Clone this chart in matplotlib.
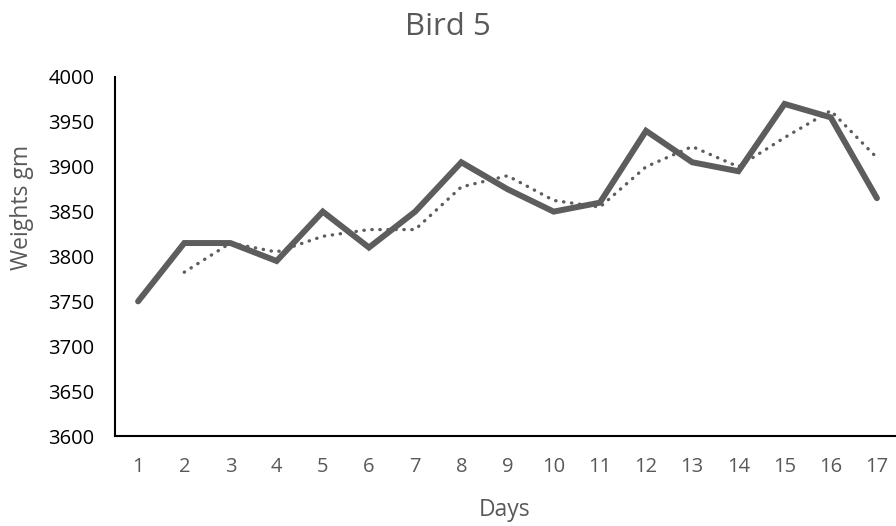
import matplotlib.pyplot as plt

plt.rcParams['font.family'] = ['Open Sans', 'DejaVu Sans']

days = list(range(1, 18))
weights = [3750, 3815, 3815, 3795, 3850, 3810, 3850, 3905, 3875,
           3850, 3860, 3940, 3905, 3895, 3970, 3955, 3865]
# 2-day moving average trend (starts on day 2)
trend_days = list(range(2, 18))
trend = [3782.5, 3815, 3805, 3822.5, 3830, 3830, 3877.5, 3890,
         3862.5, 3855, 3900, 3922.5, 3900, 3932.5, 3962.5, 3910]

line_color = '#5d5d5d'
text_gray = '#595959'

fig = plt.figure(figsize=(8.96, 5.26), dpi=100)
ax = fig.add_axes([115 / 896, 1 - 436 / 526, 785 / 896, 359 / 526])

ax.plot(days, weights, color=line_color, linewidth=4.3,
        solid_capstyle='round', solid_joinstyle='miter')
ax.plot(trend_days, trend, color=line_color, linewidth=2.4,
        linestyle=(0, (0.1, 2.3)), dash_capstyle='round')

ax.set_xlim(0.5, 17.5)
ax.set_ylim(3600, 4000)
ax.set_xticks(days)
ax.set_yticks(range(3600, 4001, 50))
ax.tick_params(axis='both', length=0, labelsize=14.5)
ax.tick_params(axis='x', pad=15, colors=text_gray)
ax.tick_params(axis='y', pad=15, colors='black')
ax.spines['top'].set_visible(False)
ax.spines['right'].set_visible(False)
ax.spines['left'].set_linewidth(1.5)
ax.spines['bottom'].set_linewidth(1.5)

fig.text(448 / 896, 1 - 35 / 526, 'Bird 5', ha='center', va='baseline',
         fontsize=22.5, color=text_gray)
fig.text(505 / 896, 1 - 516 / 526, 'Days', ha='center', va='baseline',
         fontsize=16.5, color=text_gray)
fig.text(22 / 896, 1 - 207 / 526, 'Weights gm', ha='center', va='center',
         rotation=90, fontsize=16.5, color=text_gray)

fig.savefig('out.png', dpi=100)
